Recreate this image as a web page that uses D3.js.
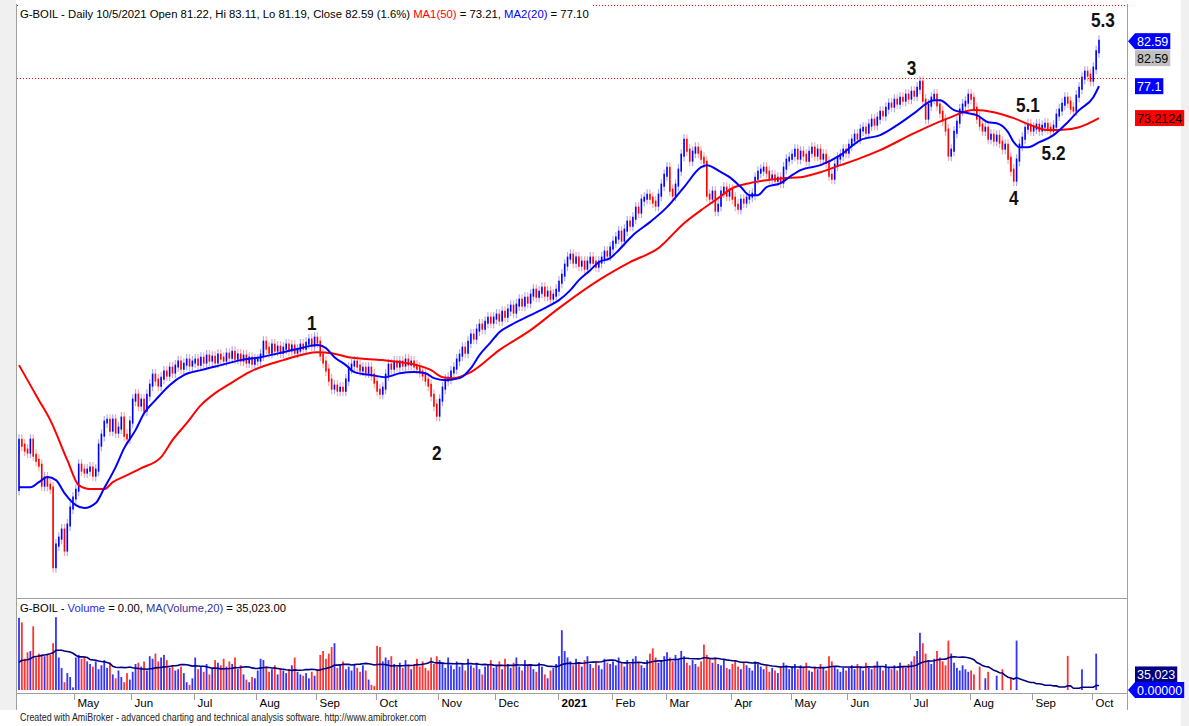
<!DOCTYPE html>
<html>
<head>
<meta charset="utf-8">
<script src="https://cdn.jsdelivr.net/npm/d3@7"></script>
<style>
  body { margin: 0; background: #fff; }
  svg text { font-family: "Liberation Sans", Arial, sans-serif; }
</style>
</head>
<body>
<svg id="chart" width="1189" height="726"></svg>
<script>
// daily closes, one array per month
const apr20 = [33.93, 33.32, 32.71, 32.47, 33.93, 32.10, 31.49, 30.88, 28.44, 29.30, 28.44, 28.08, 18.50, 21.13, 21.98, 22.96, 20.52, 23.57, 25.64, 26.86]
const may20 = [27.83, 30.88, 30.27, 30.03, 30.27, 30.52, 29.66, 30.27, 33.32, 34.54, 36.13, 36.37, 35.15, 36.37, 34.91, 35.40, 36.62, 34.54, 34.18, 36.13]
const jun20 = [38.81, 39.42, 38.20, 38.81, 37.59, 39.42, 40.64, 41.86, 41.25, 40.64, 41.49, 42.23, 41.86, 42.71, 42.23, 42.96, 43.45, 42.71, 43.20, 43.69, 43.08, 43.45]
const jul20 = [43.69, 43.20, 43.93, 43.45, 44.18, 43.69, 44.05, 43.45, 44.30, 43.93, 43.69, 44.42, 44.05, 44.66, 43.93, 44.30, 43.69, 44.18, 43.45, 43.93, 43.32, 43.69]
const aug20 = [43.69, 44.30, 45.88, 45.15, 44.66, 45.52, 44.91, 45.27, 44.66, 45.15, 45.52, 44.91, 45.40, 44.66, 44.91, 45.52, 45.15, 45.76, 46.13, 45.52, 46.37]
const sep20 = [45.88, 44.30, 43.45, 42.47, 41.25, 40.27, 40.52, 40.03, 40.27, 40.03, 41.25, 42.71, 43.08, 43.45, 42.96, 42.47, 42.71, 42.23, 42.71, 41.86, 41.00]
const oct20 = [40.03, 39.66, 40.27, 41.86, 43.08, 42.71, 43.45, 42.96, 43.45, 43.08, 43.69, 43.20, 43.45, 42.96, 42.71, 42.23, 41.86, 41.25, 40.64, 39.42, 38.20, 36.98]
const nov20 = [38.81, 40.27, 41.25, 41.49, 42.23, 42.71, 43.69, 44.30, 45.15, 44.66, 45.88, 46.74, 46.37, 47.35, 47.96, 47.59, 48.32, 48.81, 48.32, 48.81]
const dec20 = [49.18, 48.57, 49.54, 49.05, 49.79, 50.27, 49.54, 50.40, 51.00, 50.40, 51.25, 50.76, 51.61, 52.22, 51.49, 51.98, 52.47, 51.61, 51.98, 51.25, 51.61, 52.22]
const jan21 = [53.20, 54.05, 55.27, 56.13, 56.49, 55.64, 56.13, 55.27, 55.64, 54.91, 55.64, 56.13, 55.64, 55.15, 55.64, 56.13, 56.86, 56.49, 57.35]
const feb21 = [58.08, 58.57, 59.30, 58.32, 59.54, 60.52, 60.15, 61.00, 62.22, 61.74, 63.20, 63.44, 63.81, 63.44, 62.96, 62.59, 63.81, 65.03, 66.25]
const mar21 = [67.10, 64.42, 63.81, 65.03, 66.86, 68.69, 70.52, 69.30, 68.08, 69.05, 69.54, 69.05, 68.32, 67.83, 63.81, 63.44, 64.18, 61.98, 62.59, 64.18, 64.66, 63.81, 64.42]
const apr21 = [63.44, 62.59, 62.22, 63.20, 62.96, 63.44, 63.69, 63.93, 65.88, 66.61, 66.86, 67.10, 66.61, 65.88, 66.13, 65.64, 65.88, 65.39, 67.10, 68.08, 68.32]
const may21 = [68.69, 69.30, 68.32, 69.05, 68.69, 68.08, 69.05, 69.54, 68.69, 69.30, 68.32, 68.69, 67.83, 66.25, 65.88, 67.47, 68.32, 68.69, 69.30, 69.05]
const jun21 = [69.91, 70.52, 71.13, 70.76, 71.74, 71.98, 71.49, 72.35, 72.96, 72.47, 73.20, 73.93, 73.57, 74.42, 74.91, 74.66, 75.39, 75.03, 75.64, 75.39, 76.00, 75.64]
const jul21 = [76.37, 76.00, 76.86, 77.59, 75.39, 73.20, 74.79, 75.64, 76.00, 74.79, 73.93, 72.96, 71.74, 68.69, 69.30, 71.49, 72.71, 74.18, 74.79, 75.15, 76.00]
const aug21 = [75.64, 74.42, 73.20, 72.35, 71.74, 71.98, 70.76, 71.13, 70.52, 71.00, 70.27, 69.54, 69.91, 68.32, 66.86, 65.64, 68.08, 69.91, 70.76, 71.98, 72.35, 71.74]
const sep21 = [71.98, 72.35, 71.74, 72.22, 72.47, 71.98, 71.74, 72.22, 73.57, 74.18, 74.91, 75.64, 75.15, 74.42, 74.18, 75.88, 76.86, 78.08, 78.81, 78.44, 77.83]
const oct21 = [79.30, 81.29, 82.59]

const closes = [].concat(apr20, may20, jun20, jul20, aug20, sep20, oct20, nov20, dec20,
  jan21, feb21, mar21, apr21, may21, jun21, jul21, aug21, sep21, oct21)
const firstOpen = 27.90

// volume in thousands, one array per month (volPrior = the 19 sessions before the first bar)
const volPrior = [210, 190, 230, 170, 200, 180, 220, 160, 190, 210, 170, 200, 180, 230, 190, 170, 210, 180, 200]
const volApr20 = [555, 520, 240, 290, 300, 490, 250, 280, 270, 260, 280, 270, 360, 560, 250, 170, 60, 130, 100, 20]
const volMay20 = [250, 270, 240, 260, 220, 200, 180, 220, 160, 190, 230, 170, 210, 120, 90, 150, 100, 60, 130, 80]
const volJun20 = [140, 200, 210, 180, 220, 150, 260, 240, 280, 220, 250, 270, 230, 170, 190, 150, 160, 180, 130, 60, 40, 90]
const volJul20 = [250, 160, 180, 140, 200, 120, 170, 230, 210, 190, 240, 180, 220, 200, 250, 160, 190, 120, 80, 60, 100, 90]
const volAug20 = [150, 240, 230, 180, 140, 160, 190, 120, 170, 150, 130, 160, 190, 250, 140, 120, 110, 130, 90, 140, 110]
const volSep20 = [150, 270, 300, 240, 280, 330, 360, 170, 190, 220, 160, 180, 150, 200, 170, 140, 190, 150, 80, 40, 30]
const volOct20 = [340, 330, 220, 250, 230, 260, 200, 180, 210, 170, 230, 190, 160, 200, 240, 180, 220, 170, 150, 250, 200, 260]
const volNov20 = [230, 210, 170, 250, 190, 160, 220, 180, 200, 150, 240, 190, 170, 210, 160, 120, 180, 200, 230, 170]
const volDec20 = [190, 220, 160, 240, 200, 170, 210, 250, 180, 150, 230, 190, 200, 160, 140, 210, 180, 120, 90, 150, 170, 200]
const volJan21 = [260, 460, 300, 250, 220, 190, 240, 210, 180, 230, 260, 200, 170, 220, 190, 160, 240, 210, 200]
const volFeb21 = [220, 190, 250, 210, 180, 230, 200, 240, 260, 210, 190, 170, 230, 280, 320, 250, 210, 230, 260]
const volMar21 = [290, 250, 220, 270, 240, 300, 260, 210, 190, 230, 200, 180, 220, 350, 270, 240, 210, 250, 200, 190, 230, 170, 160]
const volApr21 = [200, 230, 180, 160, 210, 190, 170, 150, 220, 200, 180, 160, 190, 140, 170, 150, 130, 180, 210, 190, 160]
const volMay21 = [180, 200, 160, 190, 170, 210, 150, 140, 180, 160, 200, 170, 150, 260, 220, 180, 160, 140, 170, 150]
const volJun21 = [170, 190, 160, 200, 180, 150, 210, 170, 160, 190, 220, 180, 150, 200, 170, 160, 190, 150, 210, 180, 170, 200]
const volJul21 = [220, 260, 300, 440, 360, 280, 230, 200, 240, 300, 250, 220, 190, 380, 280, 210, 170, 150, 190, 160, 140]
const volAug21 = [150, 120, 0, 180, 0, 90, 140, 0, 0, 110, 0, 160, 0, 0, 90, 0, 380, 0, 0, 0, 0, 0]
const volSep21 = [0, 0, 0, 0, 0, 0, 0, 0, 0, 0, 0, 0, 262.31, 0, 0, 0, 0, 158.92, 0, 0, 0]
const volOct21 = [0, 279.23, 0]

const volumeK = [].concat(volApr20, volMay20, volJun20, volJul20, volAug20, volSep20, volOct20, volNov20, volDec20,
  volJan21, volFeb21, volMar21, volApr21, volMay21, volJun21, volJul21, volAug21, volSep21, volOct21)

// moving averages: [bar index, value]
const ma50 = [[0, 43.08], [4, 40.64], [7, 38.81], [11, 36.37], [17, 31.49], [21, 28.44], [25, 27.96], [30, 27.96],
  [33, 28.81], [38, 29.66], [43, 30.52], [50, 31.86], [54, 33.93], [59, 36.00], [64, 38.20], [69, 39.66],
  [74, 40.76], [81, 42.23], [93, 43.69], [105, 44.66], [110, 44.54], [116, 44.05], [128, 43.69], [134, 43.45],
  [140, 43.08], [145, 42.47], [149, 41.61], [153, 41.49], [159, 42.23], [169, 44.91], [180, 47.35], [190, 50.03],
  [204, 53.44], [215, 55.64], [225, 57.35], [234, 60.39], [240, 61.98], [246, 63.44], [251, 64.66], [257, 65.27],
  [263, 65.64], [269, 65.88], [275, 66.00], [282, 66.61], [289, 67.47], [296, 68.32], [303, 69.30], [315, 71.37],
  [327, 73.20], [336, 74.18], [343, 73.93], [350, 73.20], [356, 72.35], [362, 71.74], [366, 71.74], [373, 72.10],
  [380, 73.2124]]
const ma20 = [[0, 28.20], [4, 28.20], [7, 28.81], [10, 29.42], [13, 29.05], [16, 27.47], [20, 26.00], [23, 25.64],
  [27, 26.25], [30, 28.08], [34, 30.64], [37, 32.96], [41, 35.15], [44, 37.22], [48, 38.81], [53, 40.64],
  [58, 41.86], [64, 42.47], [71, 43.08], [78, 43.69], [85, 44.05], [93, 44.66], [99, 45.15], [105, 45.52],
  [108, 45.15], [111, 44.05], [115, 43.08], [118, 42.23], [124, 41.86], [129, 41.61], [134, 42.10], [139, 42.23],
  [143, 42.10], [146, 41.49], [150, 41.25], [155, 41.49], [159, 42.71], [162, 44.30], [166, 45.88], [169, 47.10],
  [173, 47.96], [180, 49.18], [187, 50.40], [190, 51.00], [194, 52.22], [197, 53.44], [201, 54.66], [204, 55.64],
  [208, 56.13], [211, 57.10], [216, 58.93], [222, 60.52], [228, 62.35], [234, 64.79], [240, 67.22], [242, 67.47],
  [247, 66.61], [250, 66.00], [254, 64.79], [257, 63.81], [260, 63.81], [263, 64.79], [268, 65.27], [272, 66.25],
  [275, 66.86], [282, 67.47], [289, 68.69], [296, 70.52], [303, 71.13], [309, 72.35], [315, 73.81], [322, 75.39],
  [324, 75.39], [329, 74.18], [334, 73.81], [337, 73.57], [341, 72.71], [344, 72.59], [348, 71.49], [350, 70.27],
  [352, 69.66], [355, 69.66], [359, 70.27], [364, 71.13], [369, 72.71], [373, 74.18], [378, 75.76], [380, 77.10]]

const monthLabels = ['May', 'Jun', 'Jul', 'Aug', 'Sep', 'Oct', 'Nov', 'Dec', '2021', 'Feb', 'Mar', 'Apr', 'May', 'Jun', 'Jul', 'Aug', 'Sep', 'Oct']
const monthStarts = [20, 40, 62, 84, 105, 126, 148, 168, 190, 209, 228, 251, 272, 292, 314, 335, 357, 378]

const waveText = ['1', '2', '3', '4', '5.1', '5.2', '5.3']
const waveBar = [103, 147, 314, 350, 355, 364, 381.4]
const waveLevel = [47.35, 31.49, 78.44, 62.59, 73.93, 68.08, 84.30]

const lastDate = '10/5/2021'
const lastOpen = 81.22
const lastHigh = 83.11
const lastLow = 81.19
const resistance = 78.08

const UP = '#0000ff'
const DOWN = '#ff0000'
const FRAME = '#a0a0a0'

const svg = d3.select('#chart')
const n = closes.length

const x = d3.scaleLinear().domain([0, n - 1]).range([19, 1099])
const y = d3.scaleLinear().domain([14.8, 87]).range([597, 5])
const yVol = d3.scaleLinear().domain([0, 600]).range([690, 612])

const bars = closes.map((c, i) => {
  const open = i ? closes[i - 1] : firstOpen
  return { i, open, close: c, up: c >= open, vol: volumeK[i] }
})

const volAll = volPrior.concat(volumeK)
const volMa = volumeK.map((v, i) => {
  const end = i + volPrior.length + 1
  return [i, d3.mean(volAll.slice(Math.max(0, end - 20), end))]
})

function drawBackground () {
  svg.append('rect').attr('width', 1189).attr('height', 726).attr('fill', '#fff')
  svg.append('rect').attr('x', 0).attr('y', 0).attr('width', 16).attr('height', 710).attr('fill', '#f0f0f0')
  svg.append('rect').attr('x', 1181).attr('y', 0).attr('width', 8).attr('height', 726).attr('fill', '#f0f0f0')

  svg.append('clipPath').attr('id', 'priceClip')
    .append('rect').attr('x', 17).attr('y', 6).attr('width', 1110).attr('height', 591)
  svg.append('clipPath').attr('id', 'volClip')
    .append('rect').attr('x', 17).attr('y', 599).attr('width', 1110).attr('height', 93)
}

function drawFrame () {
  const g = svg.append('g').attr('stroke', FRAME).attr('stroke-width', 1).attr('shape-rendering', 'crispEdges')
  g.append('line').attr('x1', 16.5).attr('x2', 16.5).attr('y1', 4).attr('y2', 710)
  g.append('line').attr('x1', 1127.5).attr('x2', 1127.5).attr('y1', 4).attr('y2', 710)
  g.append('line').attr('x1', 16).attr('x2', 1127).attr('y1', 598.5).attr('y2', 598.5)
  g.append('line').attr('x1', 16).attr('x2', 1127).attr('y1', 693.5).attr('y2', 693.5)

  // dotted level lines
  const ry = Math.round(y(resistance)) + 0.5
  svg.append('line')
    .attr('x1', 17).attr('x2', 1127).attr('y1', 5.5).attr('y2', 5.5)
    .attr('stroke', DOWN).attr('stroke-dasharray', '1,2')
  svg.append('line')
    .attr('x1', 17).attr('x2', 1127).attr('y1', ry).attr('y2', ry)
    .attr('stroke', DOWN).attr('stroke-dasharray', '1,2')
}

function drawPriceBars () {
  const g = svg.append('g').attr('clip-path', 'url(#priceClip)')
  g.selectAll('line.wick')
    .data(bars)
    .enter()
    .append('line')
    .attr('class', 'wick')
    .attr('x1', (d) => x(d.i))
    .attr('x2', (d) => x(d.i))
    .attr('y1', (d) => y(Math.max(d.open, d.close)) - 6)
    .attr('y2', (d) => y(Math.min(d.open, d.close)) + 6)
    .attr('stroke', (d) => (d.up ? '#a3a3ff' : '#ffa3a3'))
    .attr('stroke-width', 1.1)

  g.selectAll('line.body')
    .data(bars)
    .enter()
    .append('line')
    .attr('class', 'body')
    .attr('x1', (d) => x(d.i))
    .attr('x2', (d) => x(d.i))
    .attr('y1', (d) => y(Math.max(d.open, d.close)) - 1.5)
    .attr('y2', (d) => y(Math.min(d.open, d.close)) + 1.5)
    .attr('stroke', (d) => (d.up ? UP : DOWN))
    .attr('stroke-width', 1.6)
}

function drawAverages () {
  const line = d3.line()
    .x((d) => x(d[0]))
    .y((d) => y(d[1]))
    .curve(d3.curveMonotoneX)
  const g = svg.append('g').attr('clip-path', 'url(#priceClip)').attr('fill', 'none').attr('stroke-width', 2)
  g.append('path').attr('d', line(ma50)).attr('stroke', DOWN)
  g.append('path').attr('d', line(ma20)).attr('stroke', UP)
}

function drawVolume () {
  const g = svg.append('g').attr('clip-path', 'url(#volClip)')
  g.selectAll('rect')
    .data(bars.filter((d) => d.vol > 0))
    .enter()
    .append('rect')
    .attr('x', (d) => x(d.i) - 0.9)
    .attr('width', 1.8)
    .attr('y', (d) => yVol(d.vol))
    .attr('height', (d) => yVol(0) - yVol(d.vol))
    .attr('fill', (d) => (d.up ? UP : DOWN))
    .attr('opacity', 0.8)

  const line = d3.line().x((d) => x(d[0])).y((d) => yVol(d[1]))
  g.append('path')
    .attr('d', line(volMa))
    .attr('fill', 'none')
    .attr('stroke', '#000080')
    .attr('stroke-width', 1.6)
}

function drawAxis () {
  const g = svg.append('g')
  monthStarts.forEach((idx, k) => {
    const tx = Math.round(x(idx) - 1.4) + 0.5
    g.append('line')
      .attr('x1', tx).attr('x2', tx).attr('y1', 693).attr('y2', 700)
      .attr('stroke', FRAME)
    g.append('text')
      .attr('x', tx + 3)
      .attr('y', 707)
      .attr('font-size', 11.5)
      .attr('font-weight', monthLabels[k] === '2021' ? 'bold' : 'normal')
      .attr('fill', '#000')
      .text(monthLabels[k])
  })
}

function drawWaveLabels () {
  svg.append('g')
    .selectAll('text')
    .data(waveText)
    .enter()
    .append('text')
    .attr('transform', (d, k) => `translate(${x(waveBar[k])},${y(waveLevel[k])}) scale(0.82,1)`)
    .attr('text-anchor', 'middle')
    .attr('font-size', 21)
    .attr('font-weight', 'bold')
    .attr('fill', '#111')
    .text((d) => d)
}

// writes a coloured line of text and squeezes/stretches it to the given width
function writeLine (px, py, size, width, parts) {
  const t = svg.append('text')
    .attr('x', 0)
    .attr('y', 0)
    .attr('font-size', size)
  parts.forEach(([s, c]) => t.append('tspan').attr('fill', c).text(s))
  const w = t.node().getBBox().width
  t.attr('transform', `translate(${px},${py}) scale(${width / w},1)`)
  return t
}

function drawTitles () {
  const close = closes[n - 1]
  const change = (close / closes[n - 2] - 1) * 100
  const ma1 = ma50[ma50.length - 1][1]
  const ma2 = ma20[ma20.length - 1][1]
  svg.append('rect').attr('x', 18).attr('y', 4).attr('width', 573).attr('height', 18).attr('fill', '#fff')
  writeLine(20, 18, 11, 569, [
    [`G-BOIL - Daily ${lastDate} Open ${lastOpen.toFixed(2)}, Hi ${lastHigh.toFixed(2)}, Lo ${lastLow.toFixed(2)}, Close ${close.toFixed(2)} (${change.toFixed(1)}%)`, '#000'],
    ['\u00a0MA1(50)', DOWN],
    [`\u00a0=\u00a0${ma1.toFixed(2)},\u00a0`, '#000'],
    ['MA2(20)', UP],
    [`\u00a0=\u00a0${ma2.toFixed(2)}`, '#000']
  ])

  const lastVol = volumeK[n - 1] * 1000
  const lastVolMa = volMa[n - 1][1] * 1000
  writeLine(20, 612, 11, 266, [
    ['G-BOIL -\u00a0', '#000'],
    ['Volume', '#2b2bd9'],
    [`\u00a0=\u00a0${d3.format(',.2f')(lastVol)},\u00a0`, '#000'],
    ['MA(Volume,20)', '#33339a'],
    [`\u00a0=\u00a0${d3.format(',.2f')(lastVolMa)}`, '#000']
  ])

  writeLine(20, 721, 10, 407, [
    ['Created with AmiBroker - advanced charting and technical analysis software. http://www.amibroker.com', '#222']
  ])
}

function tag (cy, label, fill, color, arrow) {
  const g = svg.append('g')
  const t = g.append('text')
    .attr('x', 1137)
    .attr('y', cy + 4.5)
    .attr('font-size', 12.5)
    .attr('fill', color)
    .text(label)
  const w = t.node().getComputedTextLength()
  g.insert('rect', 'text')
    .attr('x', 1135)
    .attr('y', cy - 8)
    .attr('width', w + 4)
    .attr('height', 16)
    .attr('fill', fill)
  if (arrow) {
    g.insert('path', 'text')
      .attr('d', `M1128,${cy} L1135,${cy - 8} L1135,${cy + 8} Z`)
      .attr('fill', fill)
  }
}

function drawTags () {
  const close = closes[n - 1]
  const ma1 = ma50[ma50.length - 1][1]
  const ma2 = ma20[ma20.length - 1][1]
  tag(y(close), close.toFixed(2), UP, '#fff', true)
  tag(y(close) + 17, close.toFixed(2), '#c0c0c0', '#000', false)
  tag(y(ma2), String(ma2), UP, '#fff', false)
  tag(y(ma1), String(ma1), DOWN, '#000', false)

  tag(yVol(volMa[n - 1][1]) - 11, d3.format(',.0f')(volMa[n - 1][1] * 1000), '#000080', '#fff', false)
  tag(yVol(volumeK[n - 1]), d3.format('.5f')(volumeK[n - 1]), UP, '#fff', true)
}

drawBackground()
drawPriceBars()
drawAverages()
drawVolume()
drawFrame()
drawAxis()
drawWaveLabels()
drawTitles()
drawTags()
</script>
</body>
</html>
